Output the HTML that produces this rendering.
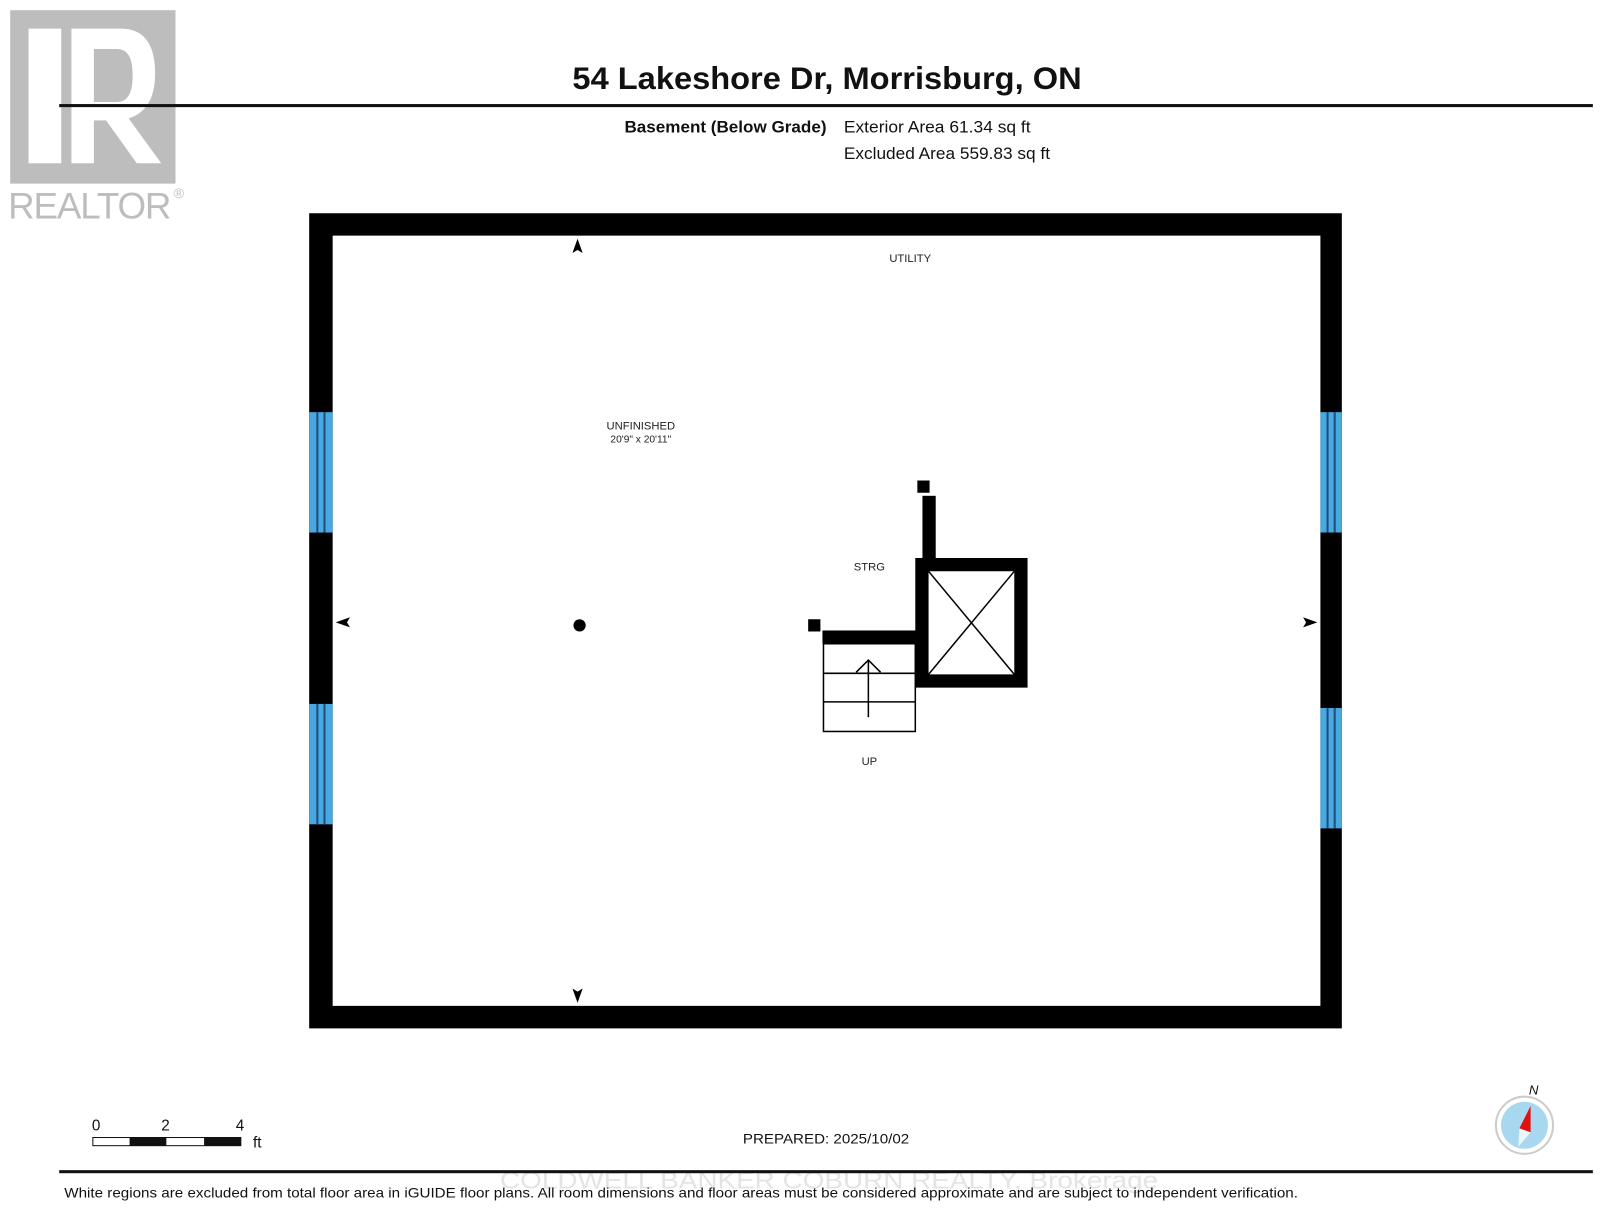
<!DOCTYPE html>
<html><head><meta charset="utf-8"><style>
html,body{margin:0;padding:0;background:#fff;}
svg{display:block;}
text{font-family:"Liberation Sans",sans-serif;}
</style></head><body>
<svg width="1600" height="1213" viewBox="0 0 1568 1189" preserveAspectRatio="none" xmlns="http://www.w3.org/2000/svg">
<rect width="1568" height="1189" fill="#fff"/>
<!-- REALTOR logo -->
<rect x="10" y="10" width="162" height="170" fill="#bdbdbd"/>
<path d="M28 28 H60 V160 H28 Z" fill="#fff"/>
<path d="M70 28 H118 Q152 28 152 72 Q152 108 126 116 L158 160 H134 L104 118 H92 V160 H70 Z M92 48 V100 H115 Q130 100 130 74 Q130 48 115 48 Z" fill="#fff"/>
<text x="8" y="214" font-size="36" fill="#bdbdbd" textLength="160">REALTOR</text>
<text x="170" y="194" font-size="14" fill="#bdbdbd">®</text>
<!-- Title -->
<text x="561" y="87" font-size="31" font-weight="bold" fill="#111" textLength="499" lengthAdjust="spacingAndGlyphs">54 Lakeshore Dr, Morrisburg, ON</text>
<rect x="58" y="102" width="1503" height="3" fill="#111"/>
<text x="612" y="130" font-size="16" font-weight="bold" fill="#111" textLength="198" lengthAdjust="spacingAndGlyphs">Basement (Below Grade)</text>
<text x="827" y="130" font-size="16" fill="#111" textLength="183" lengthAdjust="spacingAndGlyphs">Exterior Area 61.34 sq ft</text>
<text x="827" y="156" font-size="16" fill="#111" textLength="202" lengthAdjust="spacingAndGlyphs">Excluded Area 559.83 sq ft</text>
<!-- Outer walls -->
<path d="M303 209 H1315 V1008 H303 Z M326 231 V986 H1294 V231 Z" fill="#000" fill-rule="evenodd"/>
<!-- Windows -->
<g>
<rect x="303" y="404" width="23" height="118" fill="#4aa8e0"/>
<rect x="310" y="404" width="2" height="118" fill="#1a4f80"/><rect x="317" y="404" width="2" height="118" fill="#1a4f80"/>
<rect x="303" y="690" width="23" height="118" fill="#4aa8e0"/>
<rect x="310" y="690" width="2" height="118" fill="#1a4f80"/><rect x="317" y="690" width="2" height="118" fill="#1a4f80"/>
<rect x="1294" y="404" width="21" height="118" fill="#4aa8e0"/>
<rect x="1300" y="404" width="2" height="118" fill="#1a4f80"/><rect x="1307" y="404" width="2" height="118" fill="#1a4f80"/>
<rect x="1294" y="694" width="21" height="118" fill="#4aa8e0"/>
<rect x="1300" y="694" width="2" height="118" fill="#1a4f80"/><rect x="1307" y="694" width="2" height="118" fill="#1a4f80"/>
</g>
<!-- small arrows -->
<path d="M566 234 L561 248 L566 245 L571 248 Z" fill="#000"/>
<path d="M566 983 L561 969 L566 972 L571 969 Z" fill="#000"/>
<path d="M329 610 L343 605 L340 610 L343 615 Z" fill="#000"/>
<path d="M1291 610 L1277 605 L1280 610 L1277 615 Z" fill="#000"/>
<circle cx="568" cy="613" r="6" fill="#000"/>
<!-- labels -->
<text x="892" y="257" font-size="11" text-anchor="middle" fill="#222">UTILITY</text>
<text x="628" y="421" font-size="11" text-anchor="middle" fill="#222">UNFINISHED</text>
<text x="628" y="434" font-size="10" text-anchor="middle" fill="#222">20'9" x 20'11"</text>
<text x="852" y="559" font-size="11" text-anchor="middle" fill="#222">STRG</text>
<text x="852" y="750" font-size="11" text-anchor="middle" fill="#222">UP</text>
<!-- storage -->
<path d="M897 547 H1007 V674 H897 Z M910 560 V661 H994 V560 Z" fill="#000" fill-rule="evenodd"/>
<line x1="910" y1="560" x2="994" y2="661" stroke="#000" stroke-width="1.5"/>
<line x1="994" y1="560" x2="910" y2="661" stroke="#000" stroke-width="1.5"/>
<rect x="904" y="486" width="13" height="62" fill="#000"/>
<rect x="899" y="471" width="12" height="12" fill="#000"/>
<rect x="792" y="607" width="12" height="12" fill="#000"/>
<!-- stairs -->
<rect x="806" y="618" width="92" height="13" fill="#000"/>
<rect x="807" y="631" width="90" height="86" fill="none" stroke="#000" stroke-width="1.5"/>
<line x1="807" y1="660" x2="897" y2="660" stroke="#000" stroke-width="1.5"/>
<line x1="807" y1="688" x2="897" y2="688" stroke="#000" stroke-width="1.5"/>
<line x1="851" y1="703" x2="851" y2="647" stroke="#000" stroke-width="1.5"/>
<polyline points="839,659 851,647 863,659" fill="none" stroke="#000" stroke-width="1.5"/>
<!-- scale bar -->
<text x="90" y="1108" font-size="15" fill="#111">0</text>
<text x="158" y="1108" font-size="15" fill="#111">2</text>
<text x="231" y="1108" font-size="15" fill="#111">4</text>
<rect x="91" y="1115" width="145" height="8" fill="#fff" stroke="#111" stroke-width="1"/>
<rect x="127" y="1115" width="36" height="8" fill="#111"/>
<rect x="200" y="1115" width="36" height="8" fill="#111"/>
<text x="248" y="1125" font-size="15" fill="#111">ft</text>
<text x="728" y="1121" font-size="14" fill="#111" textLength="163" lengthAdjust="spacingAndGlyphs">PREPARED: 2025/10/02</text>
<!-- compass -->
<circle cx="1494" cy="1103" r="28" fill="#fff" stroke="#ccc" stroke-width="2"/>
<circle cx="1494" cy="1103" r="23" fill="#a8d8f0"/>
<path d="M1500 1084 L1489 1106 L1500 1110 Z" fill="#e01010"/>
<path d="M1500 1110 L1489 1106 L1488 1124 Z" fill="#eaf6fc"/>
<text x="1503" y="1073" font-size="13" font-style="italic" text-anchor="middle" fill="#111">N</text>
<!-- footer -->
<text x="490" y="1165" font-size="24" fill="#e4e4e4" textLength="645" lengthAdjust="spacingAndGlyphs">COLDWELL BANKER COBURN REALTY, Brokerage</text>
<rect x="58" y="1147" width="1503" height="3" fill="#111"/>
<text x="63" y="1174" font-size="13.5" fill="#111" textLength="1209" lengthAdjust="spacingAndGlyphs">White regions are excluded from total floor area in iGUIDE floor plans. All room dimensions and floor areas must be considered approximate and are subject to independent verification.</text>
</svg>
</body></html>
